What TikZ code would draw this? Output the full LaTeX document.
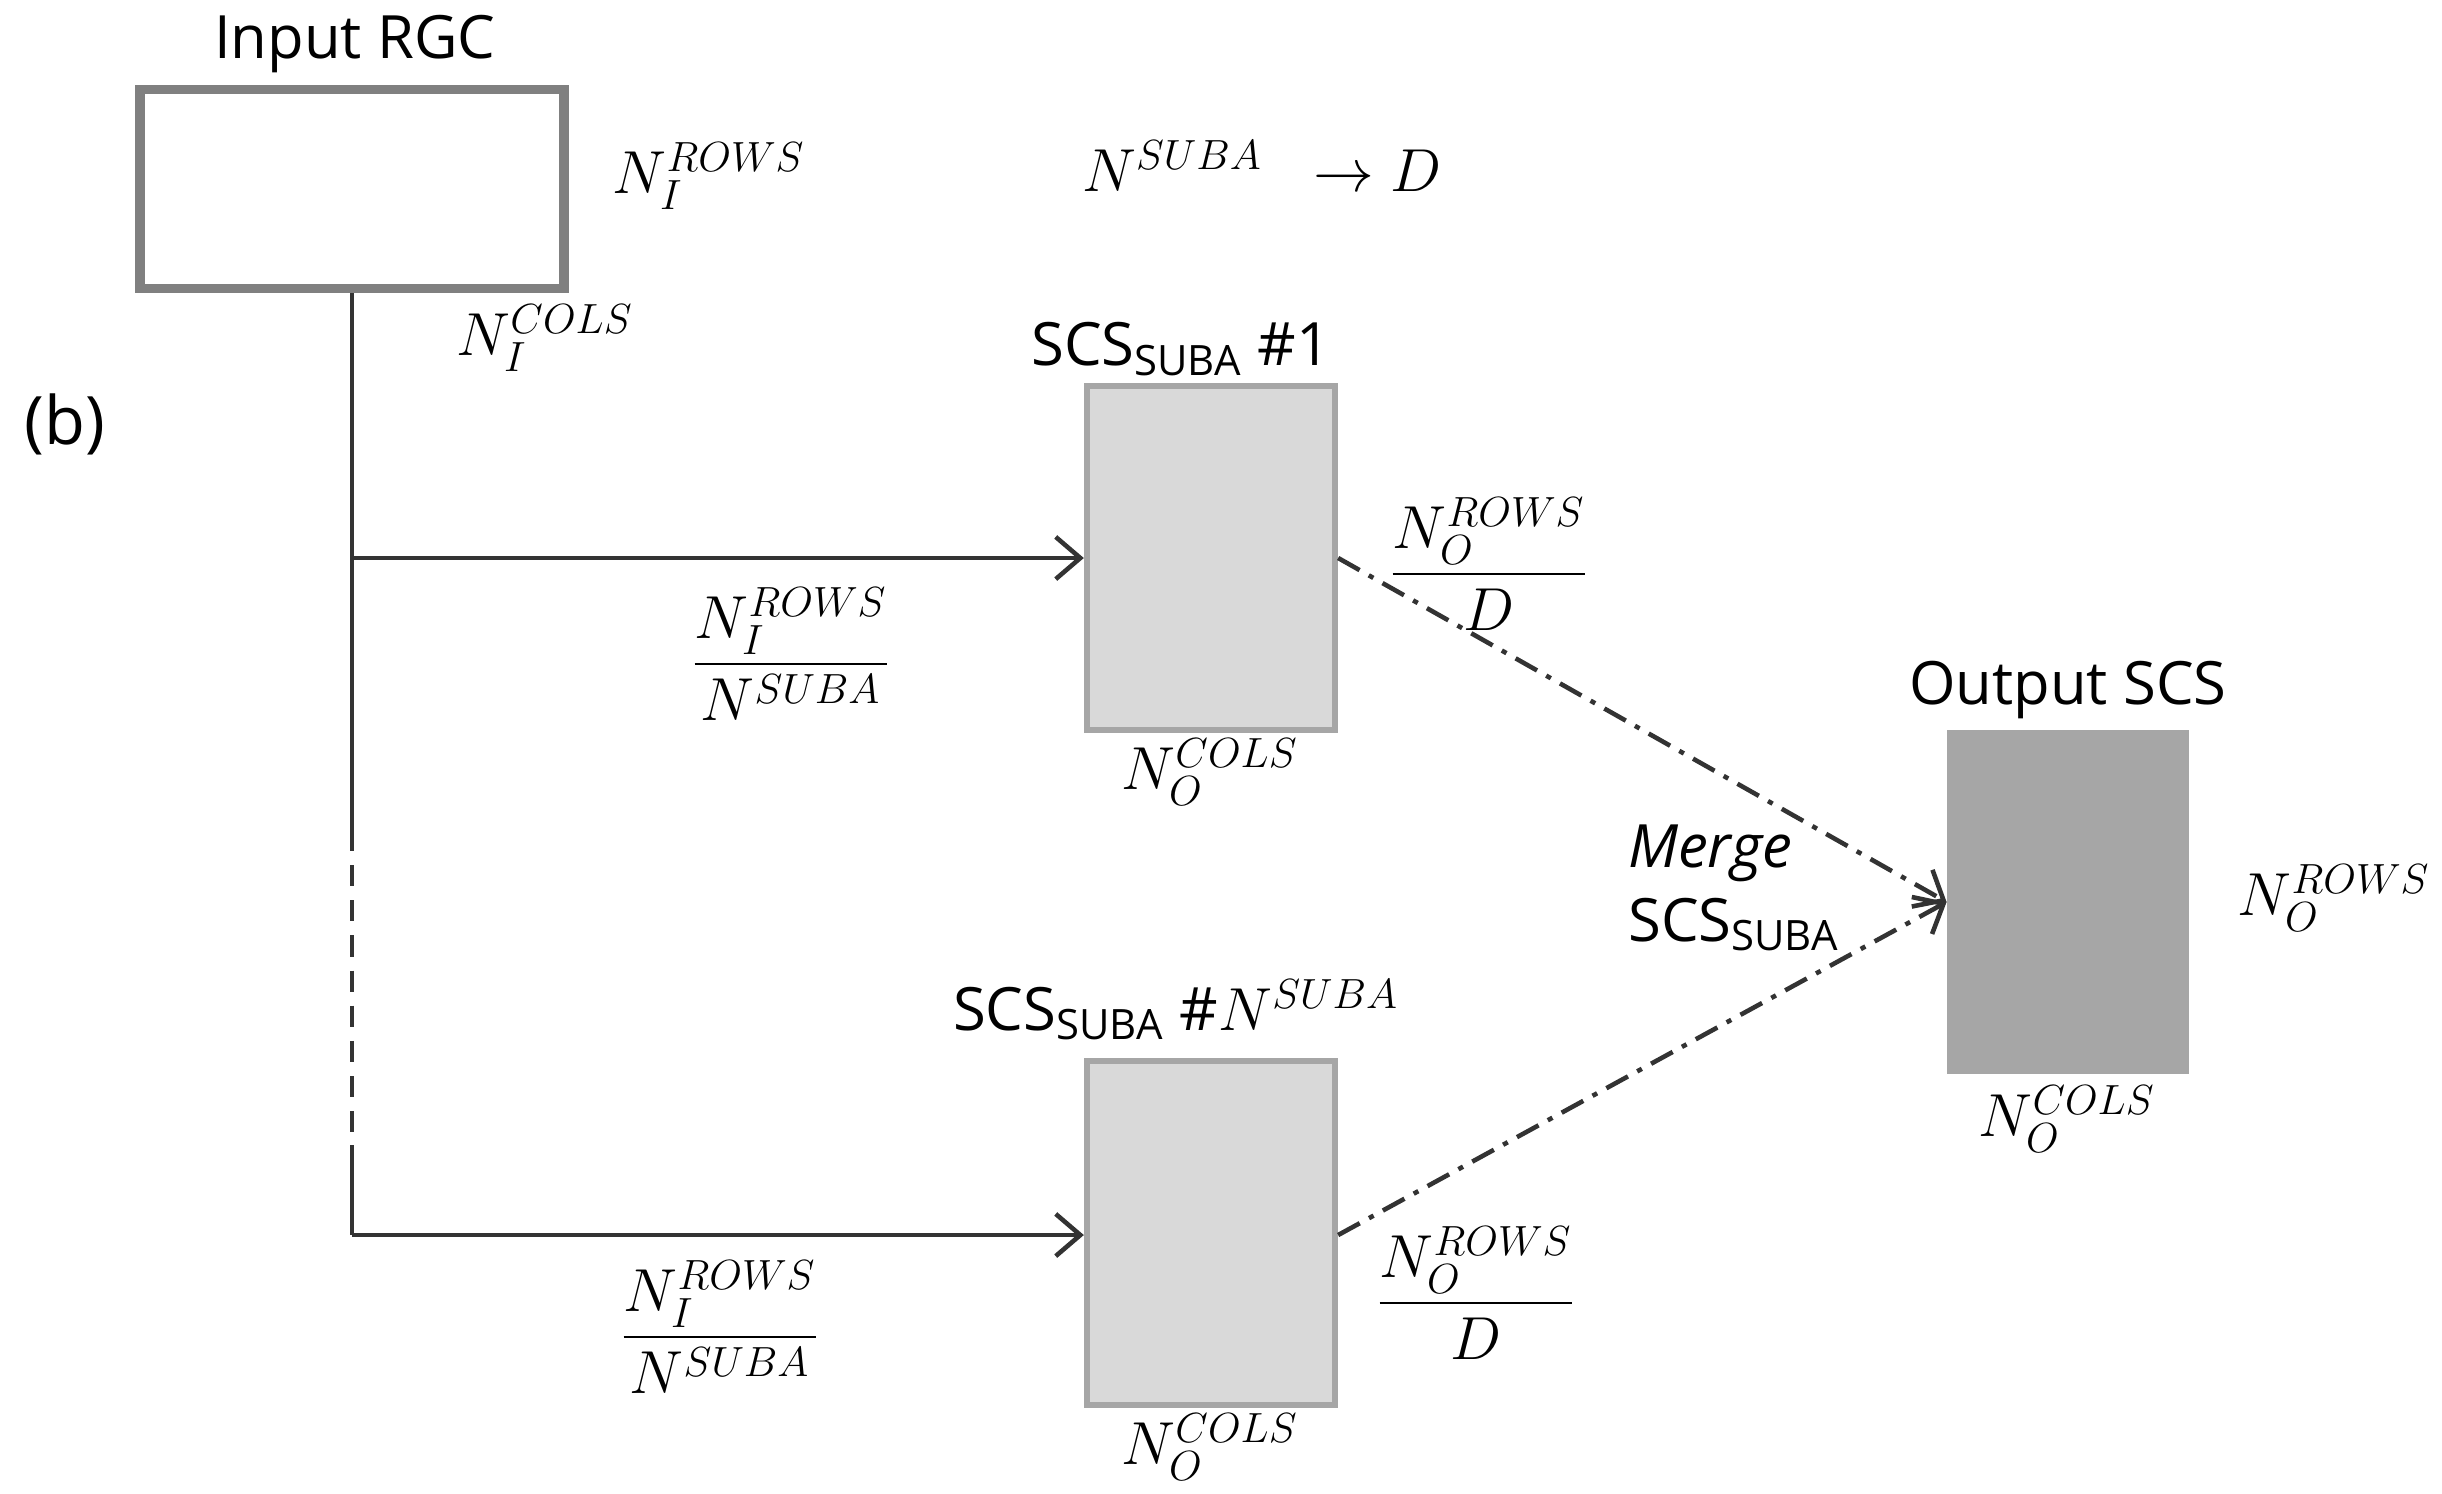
\documentclass[tikz,border=0pt]{standalone}
\usepackage{amsmath}
\usepackage{fontspec}
\setmainfont{Open Sans}
\usetikzlibrary{arrows.meta,positioning}

\begin{document}
\begin{tikzpicture}[x=0.1mm, y=-0.1mm,
    wire/.style={line width=1.3pt, draw=black!80},
    merge/.style={line width=1.3pt, draw=black!80, dash pattern=on 7pt off 3pt on 1.5pt off 3pt},
    tip/.style={-{Straight Barb[length=7pt, width=12pt, line width=1.3pt]}},
    inbox/.style={draw=black!50, line width=2.6pt, fill=white, minimum width=4.24cm, minimum height=1.99cm},
    subbox/.style={draw=black!35, line width=1.8pt, fill=black!15, minimum width=2.48cm, minimum height=3.44cm},
    outbox/.style={draw=black!35, line width=0.8pt, fill=black!35, minimum width=2.40cm, minimum height=3.41cm},
    lbl/.style={font=\fontsize{17}{21}\selectfont, inner sep=1pt},
    sym/.style={font=\fontsize{18}{22}\selectfont, inner sep=1pt}]
  \useasboundingbox (0,0) rectangle (2442,1493);

  % Input RGC
  \node[inbox] (in) at (352,189) {};
  \node[lbl] (inname) at (355,44) {Input RGC};
  \node[sym] (inrows) at (709,176) {$N_I^{ROWS}$};
  \node[sym] (incols) at (545,338) {$N_I^{COLS}$};
  \node[lbl, font=\fontsize{19}{23}\selectfont] (tag) at (65,424) {(b)};

  % the number of sub-arrays
  \node[sym] (ratio) at (1262,166) {$N^{SUBA}\;\;\to D$};

  % sub-array SCS 1
  \node[subbox] (sub1) at (1211,558) {};
  \node[lbl] (sub1name) at (1181,349) {SCS\textsubscript{SUBA} \#1};
  \node[sym] (sub1in) at (791,654) {$\dfrac{N_I^{ROWS}}{N^{SUBA}}$};
  \node[sym] (sub1cols) at (1210,772) {$N_O^{COLS}$};
  \node[sym] (sub1rows) at (1489,564) {$\dfrac{N_O^{ROWS}}{D}$};

  % sub-array SCS N
  \node[subbox] (subN) at (1211,1233) {};
  \node[lbl] (subNname) at (1176,1010) {SCS\textsubscript{SUBA} \#$N^{SUBA}$};
  \node[sym] (subNin) at (720,1327) {$\dfrac{N_I^{ROWS}}{N^{SUBA}}$};
  \node[sym] (subNcols) at (1210,1447) {$N_O^{COLS}$};
  \node[sym] (subNrows) at (1476,1293) {$\dfrac{N_O^{ROWS}}{D}$};

  % Output SCS
  \node[outbox] (out) at (2068,902) {};
  \node[lbl] (outname) at (2068,690) {Output SCS};
  \node[sym] (outrows) at (2334,898) {$N_O^{ROWS}$};
  \node[sym] (outcols) at (2067,1119) {$N_O^{COLS}$};
  \node[lbl, align=left, anchor=west] (mergetxt) at (1624,888) {\textit{Merge}\\SCS\textsubscript{SUBA}};

  % trunk and branches
  \coordinate (split1) at (352,558);
  \coordinate (split2) at (352,1235);
  \coordinate (gapA) at (352,830);
  \coordinate (gapB) at (352,1145);
  \draw[wire] (in.south) -- (gapA);
  \draw[wire, dash pattern=on 6pt off 4pt] (gapA) -- (gapB);
  \draw[wire] (gapB) -- (split2);
  \draw[wire, tip] (split1) -- (sub1.west);
  \draw[wire, tip] (split2) -- (subN.west |- split2);

  % merging
  \draw[merge, tip] (sub1.east) -- (out.west);
  \draw[merge, tip] (subN.east |- split2) -- (out.west);
\end{tikzpicture}
\end{document}
